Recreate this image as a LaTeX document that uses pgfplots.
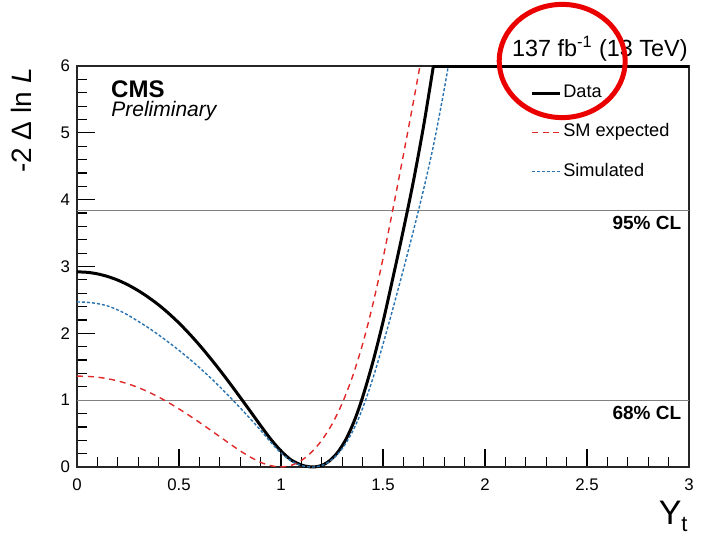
\documentclass[border=0pt]{standalone}
\usepackage{pgfplots}
\pgfplotsset{compat=1.18}
\usepackage{fontspec}
\setmainfont{Liberation Sans}
\definecolor{smred}{RGB}{225,40,40}
\definecolor{simblue}{RGB}{40,115,175}
\definecolor{clgray}{RGB}{128,128,128}
\definecolor{circred}{RGB}{235,0,0}
\begin{document}
\begin{tikzpicture}
\path[use as bounding box] (-38.5pt,-34.5pt) rectangle (312.5pt,233.5pt);
\begin{axis}[
  scale only axis,
  width=306pt, height=200.5pt,
  xmin=0, xmax=3, ymin=0, ymax=6,
  xtick={0,0.5,1,1.5,2,2.5,3},
  ytick={0,1,2,3,4,5,6},
  minor x tick num=4, minor y tick num=4,
  xtick pos=bottom, ytick pos=left,
  tick align=inside,
  major tick length=9pt, minor tick length=5pt,
  tick style={black, line width=0.6pt},
  axis line style={line width=0.7pt, black!85},
  /pgf/number format/assume math mode=true,
  ticklabel style={font=\fontsize{8.4}{10}\selectfont},
  xticklabel style={yshift=-2.5pt},
  clip=false,
  legend style={at={(0.740,0.958)}, anchor=north west, draw=none, fill=none,
    inner sep=0pt, row sep=9.45pt, font=\fontsize{9.1}{10}\selectfont,
    nodes={inner sep=1pt, text height=6.3pt, text depth=1.8pt}},
  legend cell align=left,
  legend image code/.code={\draw[#1] (0pt,0pt) -- (14pt,0pt);},
]
\addplot[clgray, line width=0.6pt, forget plot] coordinates {(0,1) (3,1)};
\addplot[clgray, line width=0.6pt, forget plot] coordinates {(0,3.84) (3,3.84)};

\addplot[black, line width=1.5pt, smooth] coordinates {
(0.00,2.92) (0.05,2.913) (0.10,2.89) (0.15,2.851) (0.20,2.796) (0.25,2.725)
(0.30,2.639) (0.35,2.539) (0.40,2.426) (0.45,2.297) (0.50,2.154) (0.55,1.996)
(0.60,1.825) (0.65,1.642) (0.70,1.450) (0.75,1.249) (0.80,1.042) (0.85,0.832)
(0.90,0.620) (0.95,0.415) (1.00,0.240) (1.05,0.105) (1.10,0.030) (1.13,0.008)
(1.16,0.00) (1.20,0.024) (1.24,0.098) (1.28,0.228) (1.32,0.424) (1.36,0.696)
(1.40,1.044) (1.45,1.567) (1.50,2.17) (1.55,2.85) (1.60,3.55) (1.65,4.29)
(1.70,5.12) (1.747,6.00)};
\addlegendentry{Data}
\addplot[smred, line width=0.7pt, dash pattern=on 3pt off 2.4pt, smooth] coordinates {
(0.00,1.36) (0.05,1.356) (0.10,1.344) (0.15,1.321) (0.20,1.288) (0.25,1.244)
(0.30,1.189) (0.35,1.123) (0.40,1.047) (0.45,0.962) (0.50,0.869) (0.55,0.771)
(0.60,0.668) (0.65,0.562) (0.70,0.454) (0.75,0.346) (0.80,0.241) (0.85,0.148)
(0.90,0.070) (0.95,0.020) (1.00,0.00) (1.05,0.025) (1.10,0.098) (1.15,0.223)
(1.20,0.40) (1.25,0.64) (1.30,0.953) (1.35,1.348) (1.40,1.838) (1.45,2.43)
(1.50,3.12) (1.55,3.88) (1.60,4.67) (1.65,5.48) (1.681,6.00)};
\addlegendentry{SM expected}
\addplot[simblue, line width=0.7pt, dash pattern=on 1.5pt off 1pt, smooth] coordinates {
(0.00,2.47) (0.05,2.464) (0.10,2.445) (0.15,2.41) (0.20,2.35) (0.25,2.273)
(0.30,2.18) (0.35,2.083) (0.40,1.977) (0.45,1.864) (0.50,1.745) (0.55,1.62)
(0.60,1.488) (0.65,1.348) (0.70,1.20) (0.75,1.045) (0.80,0.885) (0.85,0.72)
(0.90,0.55) (0.95,0.37) (1.00,0.21) (1.05,0.09) (1.10,0.022) (1.13,0.005)
(1.16,0.00) (1.20,0.022) (1.24,0.088) (1.28,0.20) (1.32,0.364) (1.36,0.588)
(1.40,0.876) (1.45,1.321) (1.50,1.836) (1.55,2.386) (1.60,2.956) (1.65,3.546)
(1.70,4.166) (1.75,4.85) (1.80,5.65) (1.82,6.00)};
\addlegendentry{Simulated}
\addplot[black, line width=1.5pt, forget plot] coordinates {(1.747,6.00) (3.00,6.00)};
\end{axis}
% text annotations
\node[anchor=base west, inner sep=0pt, font=\fontsize{12}{14}\selectfont\bfseries] at (16.9pt,184.7pt) {CMS};
\node[anchor=base west, inner sep=0pt, font=\fontsize{10.5}{12}\selectfont\itshape] at (17pt,175.2pt) {Preliminary};
\node[anchor=base east, inner sep=0pt, font=\fontsize{11.7}{13}\selectfont] at (305.5pt,205.2pt) {137 fb\textsuperscript{-1} (13 TeV)};
\node[anchor=base east, inner sep=0pt, font=\fontsize{9.5}{11}\selectfont\bfseries] at (302.3pt,118.8pt) {95\% CL};
\node[anchor=base east, inner sep=0pt, font=\fontsize{9.5}{11}\selectfont\bfseries] at (302.3pt,23.5pt) {68\% CL};
\node[rotate=90, anchor=base east, inner sep=0pt, font=\fontsize{14}{16}\selectfont] at (-22.7pt,199.5pt) {-2 Δ ln \textit{L}};
\node[anchor=base east, inner sep=0pt, font=\fontsize{17}{19}\selectfont] at (305.5pt,-28.5pt) {Y\raisebox{-0.22em}{\fontsize{11}{12}\selectfont t}};
\draw[circred, line width=2.5pt] (242.6pt,203pt) ellipse [x radius=31.5pt, y radius=28.3pt];
\end{tikzpicture}
\end{document}
